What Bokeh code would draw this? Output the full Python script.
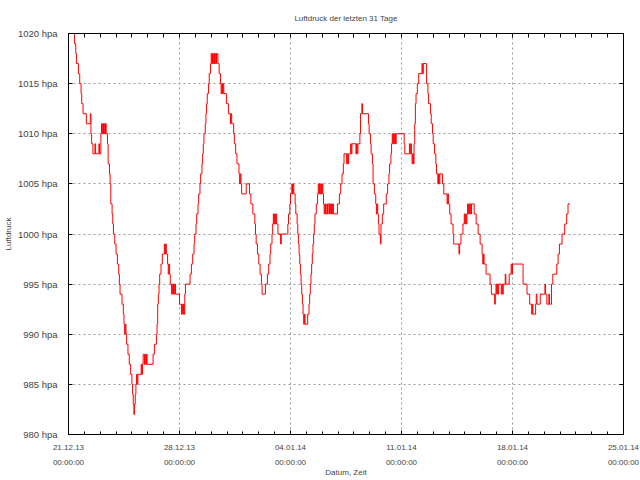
from bokeh.plotting import figure
from bokeh.models import (ColumnDataSource, Range1d, FixedTicker, LinearAxis, Title, Grid)
from bokeh.embed import file_html
from bokeh.resources import INLINE

# hours since 21.12.13 00:00:00 and air pressure (hPa), step changes
hours = [8, 9, 11, 12, 15, 17, 19, 20, 22, 27, 33, 34, 35, 37, 40, 41, 46, 47, 49, 50,
         51, 52, 53, 54, 55, 56, 57, 59, 60, 62, 63, 64, 66, 67, 68, 70, 72, 74, 76, 77,
         78, 81, 83, 84, 85, 86, 87, 88, 90, 92, 94, 96, 97, 98, 99, 100, 101, 102, 103, 104,
         105, 110, 111, 112, 113, 115, 116, 117, 118, 119, 128, 130, 133, 134, 135, 136, 137, 138, 140, 142,
         145, 146, 147, 148, 150, 151, 152, 153, 154, 156, 157, 158, 159, 160, 161, 162, 168, 171, 172, 173,
         174, 175, 176, 177, 184, 186, 188, 190, 191, 193, 194, 196, 197, 199, 200, 202, 203, 204, 205, 207,
         208, 209, 210, 212, 213, 215, 216, 217, 218, 219, 220, 221, 222, 223, 224, 226, 228, 230, 231, 232,
         233, 234, 235, 239, 242, 245, 246, 247, 250, 251, 253, 255, 258, 259, 260, 261, 262, 269, 274, 276,
         279, 282, 283, 284, 286, 288, 290, 292, 293, 298, 301, 303, 305, 306, 308, 309, 310, 311, 312, 313,
         314, 315, 317, 321, 322, 332, 333, 335, 336, 338, 339, 340, 341, 343, 344, 346, 347, 348, 349, 350,
         351, 352, 353, 354, 355, 356, 357, 358, 362, 364, 365, 366, 367, 368, 369, 370, 371, 372, 373, 375,
         377, 378, 379, 380, 381, 382, 383, 384, 385, 386, 387, 388, 389, 391, 392, 393, 395, 396, 397, 398,
         399, 400, 401, 407, 410, 412, 414, 416, 417, 421, 422, 423, 424, 427, 428, 429, 435, 436, 437, 438,
         441, 442, 444, 445, 454, 455, 457, 458, 460, 461, 463, 465, 466, 467, 468, 469, 470, 472, 473, 475,
         477, 481, 483, 485, 486, 488, 489, 490, 491, 492, 493, 494, 495, 496, 508, 509, 516, 517, 518, 519,
         520, 521, 522, 523, 524, 525, 526, 528, 530, 535, 536, 537, 542, 544, 545, 548, 549, 551, 552, 554,
         556, 557, 559, 560, 561, 562, 566, 568, 573, 574, 575, 577, 579, 582, 583, 591, 592, 594, 597, 599,
         600, 601, 602, 603, 604, 605, 606, 607, 608, 609, 610, 614, 617, 620, 623, 626, 627, 628, 629, 632,
         638, 640, 645, 646, 647, 648, 649, 650, 651, 655, 656, 657, 658, 661, 662, 667, 670, 671, 672, 688,
         694, 698, 701, 702, 703, 707, 708, 709, 714, 721, 722, 724, 727, 728, 731, 733, 739, 741, 743, 747,
         751, 754, 756, 759]
hpa = [1020, 1019, 1018, 1017, 1016, 1015, 1014, 1013, 1012, 1011, 1012, 1010, 1009, 1008, 1009, 1008, 1009, 1008, 1010, 1011,
       1010, 1011, 1010, 1011, 1010, 1011, 1010, 1009, 1007, 1006, 1005, 1003, 1002, 1001, 1000, 999, 998, 997, 996, 995,
       994, 993, 992, 991, 990, 991, 990, 989, 988, 987, 986, 985, 984, 983, 982, 983, 984, 985, 986, 985,
       986, 987, 986, 987, 988, 987, 988, 987, 988, 987, 988, 989, 990, 991, 993, 994, 995, 996, 997, 998,
       999, 998, 999, 998, 997, 996, 997, 996, 995, 994, 995, 994, 995, 994, 995, 994, 993, 992, 993, 992,
       993, 992, 994, 995, 996, 997, 998, 999, 1000, 1001, 1002, 1003, 1004, 1005, 1006, 1007, 1008, 1009, 1010, 1011,
       1012, 1013, 1014, 1015, 1016, 1017, 1018, 1017, 1018, 1017, 1018, 1017, 1018, 1017, 1018, 1017, 1016, 1015, 1014, 1015,
       1014, 1015, 1014, 1013, 1012, 1011, 1012, 1011, 1010, 1009, 1008, 1007, 1006, 1005, 1006, 1005, 1004, 1005, 1004, 1003,
       1002, 1001, 1000, 999, 998, 997, 996, 995, 994, 995, 996, 997, 998, 999, 1000, 1001, 1002, 1001, 1002, 1001,
       1002, 1001, 1000, 999, 1000, 1001, 1002, 1003, 1004, 1005, 1004, 1005, 1004, 1003, 1002, 1001, 1000, 999, 998, 997,
       996, 995, 994, 993, 992, 991, 992, 991, 992, 993, 994, 995, 996, 997, 998, 999, 1000, 1001, 1002, 1003,
       1004, 1005, 1004, 1005, 1004, 1005, 1004, 1005, 1004, 1003, 1002, 1003, 1002, 1003, 1002, 1003, 1002, 1003, 1002, 1003,
       1002, 1003, 1002, 1003, 1004, 1005, 1006, 1007, 1008, 1007, 1008, 1007, 1008, 1009, 1008, 1009, 1008, 1009, 1008, 1009,
       1010, 1012, 1013, 1012, 1011, 1010, 1009, 1008, 1007, 1005, 1004, 1003, 1002, 1003, 1002, 1001, 1000, 999, 1001, 1002,
       1003, 1004, 1005, 1006, 1007, 1008, 1009, 1010, 1009, 1010, 1009, 1010, 1009, 1010, 1009, 1008, 1009, 1008, 1009, 1008,
       1007, 1008, 1007, 1009, 1011, 1013, 1014, 1015, 1016, 1017, 1016, 1017, 1015, 1014, 1013, 1012, 1011, 1010, 1009, 1008,
       1007, 1006, 1005, 1006, 1005, 1006, 1005, 1004, 1003, 1004, 1003, 1002, 1001, 1000, 999, 998, 999, 1000, 1001, 1002,
       1001, 1002, 1001, 1002, 1003, 1002, 1003, 1002, 1003, 1002, 1003, 1002, 1001, 1000, 999, 998, 997, 998, 997, 996,
       995, 994, 993, 994, 995, 994, 995, 994, 995, 994, 995, 994, 995, 996, 995, 996, 997, 996, 997, 995,
       994, 993, 992, 993, 992, 993, 994, 993, 994, 995, 994, 993, 994, 993, 995, 996, 997, 998, 999, 1000,
       1001, 1002, 1003, 1003]

# axis ticks
x_ticks = [0, 168, 336, 504, 672, 840]
x_tick_labels = ["21.12.13\n00:00:00", "28.12.13\n00:00:00", "04.01.14\n00:00:00",
                 "11.01.14\n00:00:00", "18.01.14\n00:00:00", "25.01.14\n00:00:00"]
x_minor = list(range(0, 841, 24))
y_ticks = [980, 985, 990, 995, 1000, 1005, 1010, 1015, 1020]
y_tick_labels = ["980 hpa", "985 hpa", "990 hpa", "995 hpa", "1000 hpa", "1005 hpa",
                 "1010 hpa", "1015 hpa", "1020 hpa"]

FONT = "Liberation Sans"

p = figure(width=640, height=480, output_backend="svg", toolbar_location=None,
           x_range=Range1d(0, 840), y_range=Range1d(980, 1020),
           x_axis_location=None, y_axis_location=None,
           min_border_left=68, min_border_right=17, min_border_top=33, min_border_bottom=44)
p.outline_line_color = "black"
p.outline_line_width = 1

src = ColumnDataSource(dict(h=hours, v=hpa))
p.step(x="h", y="v", source=src, mode="after", line_color="red", line_width=1)

xt = FixedTicker(ticks=x_ticks, minor_ticks=x_minor)
yt = FixedTicker(ticks=y_ticks, minor_ticks=[])
xt_top = FixedTicker(ticks=[], minor_ticks=x_minor)
yt_right = FixedTicker(ticks=[], minor_ticks=y_ticks)


def style(ax):
    ax.axis_line_color = "black"
    ax.major_tick_in = 4
    ax.major_tick_out = 0
    ax.minor_tick_in = 3
    ax.minor_tick_out = 0
    ax.major_label_text_font = FONT
    ax.axis_label_text_font = FONT
    ax.axis_label_text_font_style = "normal"


xb = LinearAxis(ticker=xt, axis_label="Datum, Zeit")
style(xb)
xb.major_label_overrides = dict(zip(x_ticks, x_tick_labels))
xb.major_label_text_font_size = "8px"
xb.major_label_text_line_height = 1.75
xb.major_label_standoff = 8
xb.axis_label_text_font_size = "8px"
xb.axis_label_standoff = -2
p.add_layout(xb, "below")

xa = LinearAxis(ticker=xt_top)
style(xa)
xa.minor_tick_in = 4
xa.major_label_standoff = 0
p.add_layout(xa, "above")

yl = LinearAxis(ticker=yt, axis_label="Luftdruck")
style(yl)
yl.major_label_overrides = dict(zip(y_ticks, y_tick_labels))
yl.major_label_text_font_size = "9.5px"
yl.major_label_standoff = 11
yl.axis_label_text_font_size = "8px"
yl.axis_label_standoff = 2
p.add_layout(yl, "left")

yr = LinearAxis(ticker=yt_right)
style(yr)
yr.minor_tick_in = 4
yr.major_label_standoff = 0
p.add_layout(yr, "right")

p.xgrid.grid_line_color = None
p.ygrid.grid_line_color = None
p.add_layout(Grid(dimension=0, ticker=xt, grid_line_color="#999999", grid_line_dash="2 3"))
p.add_layout(Grid(dimension=1, ticker=yt, grid_line_color="#999999", grid_line_dash="2 3"))

p.title = Title(text="Luftdruck der letzten 31 Tage", align="center", text_font=FONT,
                text_font_size="8px", text_font_style="normal", standoff=22)

open("out.html", "w").write(file_html(p, INLINE))
